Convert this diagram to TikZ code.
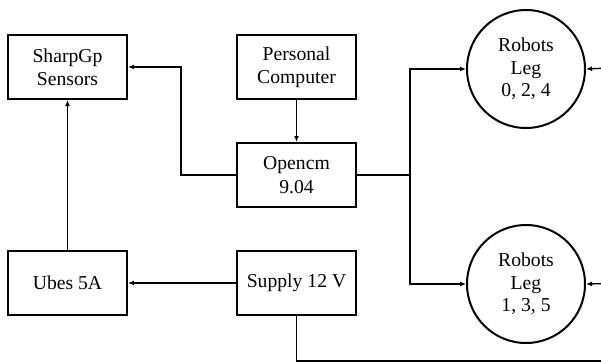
\documentclass[tikz,border=0pt]{standalone}
\usepackage{fontspec}
\setmainfont{Liberation Serif}
\usetikzlibrary{arrows.meta,positioning}
\tikzset{
  unitBox/.style={rectangle, draw, line width=1.2pt, minimum width=71.4pt,
    minimum height=38.4pt, inner sep=0pt, align=center,
    font=\fontsize{11.8}{14}\selectfont},
  legCircle/.style={circle, draw, line width=1.2pt, minimum size=70.8pt,
    inner sep=0pt, align=center, font=\fontsize{11.8}{13.4}\selectfont},
  wire/.style={-{Latex[length=3.6pt, width=3pt]}, line width=0.8pt},
  plainWire/.style={line width=0.8pt},
}

\begin{document}
\begin{tikzpicture}[x=0.6pt,y=-0.6pt]
  \useasboundingbox (0,0) rectangle (601,363);

  % boxes
  \node[unitBox] (sharp) at (67.5,67) {SharpGp\\Sensors};
  \node[unitBox] (pc) at (296.5,67) {Personal\\Computer};
  \node[unitBox] (opencm) at (296.5,175) {Opencm\\9.04};
  \node[unitBox] (ubes) at (67.5,283) {Ubes 5A};
  \node[unitBox] (supply) at (296.5,283) {Supply 12 V};

  % legs
  \node[legCircle] (legA) at (526,69) {Robots\\Leg\\0, 2, 4};
  \node[legCircle] (legB) at (526,284) {Robots\\Leg\\1, 3, 5};

  \coordinate (split) at (410,175);
  \coordinate (railBottom) at (630,361);
  \coordinate (railTop) at (630,67);
  \coordinate (railMid) at (630,283);

  % control
  \draw[wire] (pc.south) -- (opencm.north);
  \draw[wire] (opencm.west) -- ++(-55,0) |- (sharp.east);
  \draw[plainWire] (opencm.east) -- (split);
  \draw[wire] (split) |- (legA.west);
  \draw[wire] (split) |- (legB.west);

  % power
  \draw[wire] (supply.west) -- (ubes.east);
  \draw[wire] (ubes.north) -- (sharp.south);
  \draw[plainWire] (supply.south) |- (railBottom) -- (railTop);
  \draw[wire] (railTop) -- (legA.east);
  \draw[wire] (railMid) -- (legB.east);
\end{tikzpicture}
\end{document}
